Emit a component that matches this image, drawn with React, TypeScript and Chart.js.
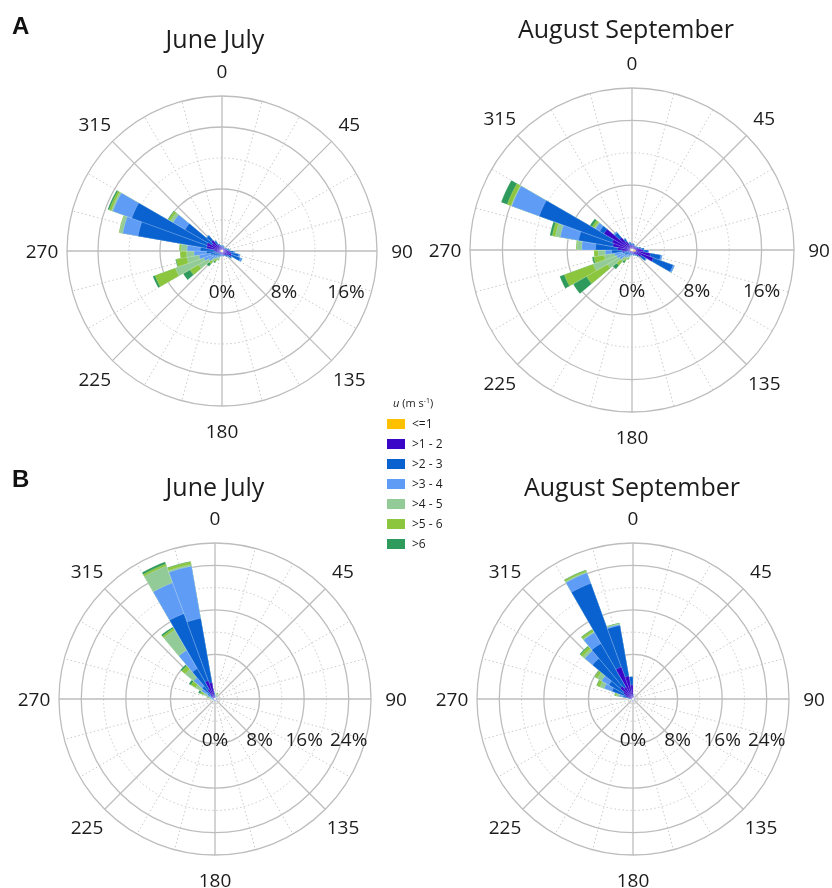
import React, { useEffect, useRef } from 'react';
import { Chart, registerables } from 'chart.js';

Chart.register(...registerables);

const FONT = "'Open Sans', 'Noto Sans', sans-serif";

// 36 direction sectors of 10 degrees (sector centres, degrees from north)
const DIRECTIONS = ['5', '15', '25', '35', '45', '55', '65', '75', '85', '95', '105', '115', '125', '135', '145', '155', '165', '175',
  '185', '195', '205', '215', '225', '235', '245', '255', '265', '275', '285', '295', '305', '315', '325', '335', '345', '355'];

const SPEED_CLASSES = ['<=1', '>1 - 2', '>2 - 3', '>3 - 4', '>4 - 5', '>5 - 6', '>6'];
const SPEED_COLORS = ['#FFC000', '#3A06C8', '#0A62D0', '#5E9CF6', '#93CB98', '#8CC63E', '#2E9A5C'];

const COMPASS_ANGLES = [0, 45, 90, 135, 180, 225, 270, 315];
const COMPASS_LABELS = ['0', '45', '90', '135', '180', '225', '270', '315'];
const RING_LABELS_A = [0, 8, 16];
const RING_LABELS_B = [0, 8, 16, 24];

// ---- Panel A, June July (percent frequency per speed class, per sector)
const A_JJ_LE1 = [0.1, 0.1, 0.1, 0.1, 0.1, 0.1, 0.1, 0.1, 0.1, 0.1, 0.1, 0.1, 0.1, 0.1, 0.1, 0.1, 0.1, 0.1, 0.1, 0.1, 0.1, 0.1, 0.1, 0.1, 0.1, 0.1, 0.1, 0.1, 0.2, 0.2, 0.2, 0.1, 0.1, 0.1, 0.1, 0.1];
const A_JJ_1_2 = [0.4, 0.4, 0.3, 0.3, 0.3, 0.3, 0.4, 0.5, 0.6, 0.8, 1.1, 1.2, 0.8, 0.6, 0.5, 0.4, 0.4, 0.3, 0.3, 0.3, 0.3, 0.3, 0.3, 0.3, 0.4, 0.5, 0.7, 0.9, 1.8, 1.9, 1.3, 1.7, 0.9, 0.6, 0.5, 0.4];
const A_JJ_2_3 = [0.2, 0.2, 0.2, 0.1, 0.1, 0.2, 0.2, 0.3, 0.3, 0.6, 1.0, 1.2, 0.5, 0.3, 0.2, 0.2, 0.2, 0.2, 0.2, 0.2, 0.3, 0.3, 0.4, 0.6, 0.7, 0.9, 1.2, 1.8, 9.0, 10.3, 4.0, 0.8, 0.5, 0.3, 0.2, 0.2];
const A_JJ_3_4 = [0, 0, 0, 0, 0, 0, 0, 0, 0.1, 0.2, 0.2, 0.3, 0.1, 0, 0, 0, 0, 0, 0.1, 0.1, 0.2, 0.3, 0.5, 1.0, 1.3, 1.5, 1.6, 1.7, 2.0, 2.6, 1.8, 0.1, 0.1, 0, 0, 0];
const A_JJ_4_5 = [0, 0, 0, 0, 0, 0, 0, 0, 0, 0, 0, 0, 0, 0, 0, 0, 0, 0, 0, 0.1, 0.2, 0.3, 0.5, 1.5, 3.9, 1.6, 1.0, 0.8, 0.4, 0.2, 0.4, 0, 0, 0, 0, 0];
const A_JJ_5_6 = [0, 0, 0, 0, 0, 0, 0, 0, 0, 0, 0, 0, 0, 0, 0, 0, 0, 0, 0, 0, 0.1, 0.3, 0.4, 1.3, 2.8, 1.4, 0.8, 0.2, 0.1, 0.3, 0.3, 0, 0, 0, 0, 0];
const A_JJ_GT6 = [0, 0, 0, 0, 0, 0, 0, 0, 0, 0, 0, 0, 0, 0, 0, 0, 0, 0, 0, 0, 0.1, 0.2, 0.4, 1.0, 0.3, 0.1, 0, 0, 0, 0.2, 0.1, 0, 0, 0, 0, 0];

// ---- Panel A, August September
const A_AS_LE1 = [0.1, 0.1, 0.1, 0.1, 0.1, 0.1, 0.1, 0.2, 0.3, 0.4, 0.5, 0.4, 0.3, 0.2, 0.1, 0.1, 0.1, 0.1, 0.1, 0.1, 0.1, 0.1, 0.1, 0.1, 0.1, 0.1, 0.2, 0.2, 0.2, 0.2, 0.2, 0.2, 0.2, 0.1, 0.1, 0.1];
const A_AS_1_2 = [0.5, 0.5, 0.4, 0.4, 0.4, 0.4, 0.5, 0.6, 0.8, 1.0, 1.8, 2.4, 1.0, 0.6, 0.5, 0.4, 0.4, 0.3, 0.3, 0.3, 0.3, 0.3, 0.2, 0.3, 0.3, 0.4, 1.0, 1.6, 2.2, 2.4, 3.8, 1.8, 1.0, 0.6, 0.6, 0.5];
const A_AS_2_3 = [0.2, 0.2, 0.2, 0.1, 0.1, 0.2, 0.2, 0.3, 0.4, 0.6, 1.3, 2.6, 0.7, 0.3, 0.2, 0.2, 0.2, 0.2, 0.2, 0.2, 0.3, 0.3, 0.4, 0.6, 0.6, 0.7, 1.3, 2.7, 4.3, 9.6, 0.6, 0.8, 0.4, 0.3, 0.3, 0.2];
const A_AS_3_4 = [0, 0, 0, 0, 0, 0, 0, 0, 0, 0.1, 0.2, 0.2, 0.1, 0, 0, 0, 0, 0, 0.1, 0.1, 0.2, 0.3, 0.5, 0.8, 1.0, 1.0, 0.8, 1.7, 2.3, 3.6, 0.6, 0.2, 0.1, 0, 0, 0];
const A_AS_4_5 = [0, 0, 0, 0, 0, 0, 0, 0, 0, 0, 0, 0, 0, 0, 0, 0, 0, 0, 0, 0.1, 0.2, 0.3, 0.6, 1.7, 3.1, 1.3, 0.9, 0.6, 0.6, 0.1, 0.2, 0, 0, 0, 0, 0];
const A_AS_5_6 = [0, 0, 0, 0, 0, 0, 0, 0, 0, 0, 0, 0, 0, 0, 0, 0, 0, 0, 0, 0, 0.1, 0.3, 0.7, 3.0, 3.8, 1.3, 0.5, 0.1, 0.4, 0.5, 0.3, 0, 0, 0, 0, 0];
const A_AS_GT6 = [0, 0, 0, 0, 0, 0, 0, 0, 0, 0, 0, 0, 0, 0, 0, 0, 0, 0, 0, 0, 0.1, 0.3, 0.6, 1.9, 0.6, 0.2, 0, 0, 0.3, 0.8, 0.3, 0, 0, 0, 0, 0];

// ---- Panel B, June July
const B_JJ_LE1 = [0.05, 0.05, 0.05, 0.05, 0.05, 0.05, 0.05, 0.05, 0.05, 0.05, 0.05, 0.05, 0.05, 0.05, 0.05, 0.05, 0.05, 0.05, 0.05, 0.05, 0.05, 0.05, 0.05, 0.05, 0.05, 0.05, 0.05, 0.05, 0.1, 0.1, 0.1, 0.1, 0.1, 0.1, 0.1, 0.1];
const B_JJ_1_2 = [0.3, 0.2, 0.2, 0.2, 0.15, 0.15, 0.15, 0.15, 0.15, 0.15, 0.15, 0.15, 0.15, 0.15, 0.15, 0.15, 0.15, 0.15, 0.15, 0.15, 0.15, 0.15, 0.15, 0.15, 0.15, 0.15, 0.2, 0.2, 0.1, 0.2, 0.4, 0.9, 1.9, 3.4, 2.9, 0.5];
const B_JJ_2_3 = [0.3, 0.2, 0.2, 0.1, 0.1, 0.1, 0.1, 0.1, 0.1, 0.1, 0.1, 0.1, 0.1, 0.1, 0.1, 0.1, 0.1, 0.1, 0.1, 0.1, 0.1, 0.1, 0.1, 0.1, 0.1, 0.15, 0.2, 0.2, 0.3, 0.5, 1.0, 2.0, 4.3, 12.8, 11.7, 0.5];
const B_JJ_3_4 = [0.1, 0.1, 0.2, 0.1, 0, 0, 0, 0, 0, 0, 0, 0, 0, 0, 0, 0, 0, 0, 0.1, 0.1, 0.1, 0.1, 0.1, 0.1, 0.1, 0.1, 0.1, 0.2, 0.3, 0.7, 1.3, 2.0, 3.8, 5.9, 9.5, 0.2];
const B_JJ_4_5 = [0.1, 0.2, 0.3, 0.1, 0, 0, 0, 0, 0, 0, 0, 0, 0, 0, 0, 0, 0, 0, 0, 0, 0, 0, 0, 0, 0, 0.1, 0.1, 0.2, 0.3, 0.7, 1.2, 2.0, 4.2, 3.2, 0.3, 0.1];
const B_JJ_5_6 = [0.1, 0.2, 0.2, 0.1, 0, 0, 0, 0, 0, 0, 0, 0, 0, 0, 0, 0, 0, 0, 0, 0, 0, 0, 0, 0, 0, 0, 0.05, 0.1, 0.3, 0.6, 1.0, 0.8, 0.4, 0.4, 0.5, 0];
const B_JJ_GT6 = [0, 0.1, 0.1, 0, 0, 0, 0, 0, 0, 0, 0, 0, 0, 0, 0, 0, 0, 0, 0, 0, 0, 0, 0, 0, 0, 0, 0, 0.05, 0.1, 0.4, 0.4, 0.3, 0.3, 0.4, 0.1, 0];

// ---- Panel B, August September
const B_AS_LE1 = [0.05, 0.05, 0.05, 0.05, 0.05, 0.05, 0.05, 0.05, 0.05, 0.05, 0.05, 0.05, 0.05, 0.05, 0.05, 0.05, 0.05, 0.05, 0.05, 0.05, 0.05, 0.05, 0.05, 0.05, 0.05, 0.05, 0.05, 0.05, 0.1, 0.1, 0.1, 0.1, 0.1, 0.1, 0.2, 0.1];
const B_AS_1_2 = [0.5, 0.2, 0.15, 0.15, 0.15, 0.15, 0.15, 0.15, 0.15, 0.15, 0.15, 0.15, 0.15, 0.15, 0.15, 0.15, 0.15, 0.15, 0.15, 0.15, 0.15, 0.15, 0.15, 0.15, 0.15, 0.15, 0.2, 0.3, 0.7, 1.4, 1.9, 2.9, 2.4, 6.0, 4.0, 2.4];
const B_AS_2_3 = [0.3, 0.1, 0.05, 0.05, 0.05, 0.05, 0.05, 0.05, 0.05, 0.05, 0.05, 0.05, 0.05, 0.05, 0.05, 0.05, 0.05, 0.05, 0.1, 0.1, 0.1, 0.1, 0.1, 0.1, 0.1, 0.1, 0.1, 0.3, 1.0, 2.5, 3.0, 6.5, 9.0, 16.0, 9.2, 1.5];
const B_AS_3_4 = [0, 0, 0, 0, 0, 0, 0, 0, 0, 0, 0, 0, 0, 0, 0, 0, 0, 0, 0, 0, 0, 0, 0, 0, 0, 0, 0.1, 0.2, 0.7, 1.5, 1.5, 1.8, 2.3, 2.0, 0.2, 0];
const B_AS_4_5 = [0, 0, 0, 0, 0, 0, 0, 0, 0, 0, 0, 0, 0, 0, 0, 0, 0, 0, 0, 0, 0, 0, 0, 0, 0, 0, 0, 0.1, 0.5, 0.8, 0.9, 0.5, 0.2, 0.2, 0.1, 0];
const B_AS_5_6 = [0, 0, 0, 0, 0, 0, 0, 0, 0, 0, 0, 0, 0, 0, 0, 0, 0, 0, 0, 0, 0, 0, 0, 0, 0, 0, 0, 0.1, 0.3, 0.6, 0.5, 0.5, 0.4, 0.3, 0.1, 0];
const B_AS_GT6 = [0, 0, 0, 0, 0, 0, 0, 0, 0, 0, 0, 0, 0, 0, 0, 0, 0, 0, 0, 0, 0, 0, 0, 0, 0, 0, 0, 0, 0.1, 0.1, 0.1, 0.2, 0.1, 0.1, 0.1, 0];

// grid: radial lines every 15 degrees (solid every 45)
const GRID_ANGLES = [0, 15, 30, 45, 60, 75, 90, 105, 120, 135, 150, 165, 180, 195, 210, 225, 240, 255, 270, 285, 300, 315, 330, 345];
const GRID_SOLID = '#BDBDBD';
const GRID_DOT = '#C9C9C9';
const TEXT = '#1c1c1c';

type Spec = {
  id: string;
  title: string;
  classes: number[][];
  max: number;
  rings: number[];
  cx: number;
  cy: number;
  R: number;
  titleDx: number;
  titleDy: number;
};

const SPECS: Spec[] = [
  { id: 'a1', title: 'June July', classes: [A_JJ_LE1, A_JJ_1_2, A_JJ_2_3, A_JJ_3_4, A_JJ_4_5, A_JJ_5_6, A_JJ_GT6], max: 20, rings: RING_LABELS_A, cx: 222, cy: 251, R: 155, titleDx: -7, titleDy: -203 },
  { id: 'a2', title: 'August September', classes: [A_AS_LE1, A_AS_1_2, A_AS_2_3, A_AS_3_4, A_AS_4_5, A_AS_5_6, A_AS_GT6], max: 20, rings: RING_LABELS_A, cx: 632, cy: 250, R: 162, titleDx: -6, titleDy: -212 },
  { id: 'b1', title: 'June July', classes: [B_JJ_LE1, B_JJ_1_2, B_JJ_2_3, B_JJ_3_4, B_JJ_4_5, B_JJ_5_6, B_JJ_GT6], max: 28, rings: RING_LABELS_B, cx: 215, cy: 699, R: 156, titleDx: 0, titleDy: -203 },
  { id: 'b2', title: 'August September', classes: [B_AS_LE1, B_AS_1_2, B_AS_2_3, B_AS_3_4, B_AS_4_5, B_AS_5_6, B_AS_GT6], max: 28, rings: RING_LABELS_B, cx: 633, cy: 699, R: 156, titleDx: -1, titleDy: -203 },
];

const PAD = { left: 70, right: 70, top: 90, bottom: 70 };

function decorPlugin(spec: Spec) {
  return {
    id: 'roseDecor',
    beforeDatasetsDraw(chart: any) {
      const s = chart.scales.r;
      const ctx = chart.ctx;
      const R = s.drawingArea;
      ctx.save();
      GRID_ANGLES.forEach((a) => {
        const major = a % 45 === 0;
        const t = (a * Math.PI) / 180;
        ctx.beginPath();
        ctx.setLineDash(major ? [] : [1.5, 2.5]);
        ctx.strokeStyle = major ? GRID_SOLID : GRID_DOT;
        ctx.lineWidth = major ? 1.3 : 1;
        ctx.moveTo(s.xCenter, s.yCenter);
        ctx.lineTo(s.xCenter + R * Math.sin(t), s.yCenter - R * Math.cos(t));
        ctx.stroke();
      });
      ctx.restore();
    },
    afterDraw(chart: any) {
      const s = chart.scales.r;
      const ctx = chart.ctx;
      const R = s.drawingArea;
      ctx.save();
      ctx.fillStyle = TEXT;
      ctx.font = `19px ${FONT}`;
      ctx.textAlign = 'center';
      ctx.textBaseline = 'middle';
      COMPASS_ANGLES.forEach((a, i) => {
        const t = (a * Math.PI) / 180;
        const rr = R + 25;
        ctx.fillText(COMPASS_LABELS[i], s.xCenter + rr * Math.sin(t), s.yCenter - rr * Math.cos(t) + 2);
      });
      ctx.textBaseline = 'alphabetic';
      spec.rings.forEach((v) => {
        const d = s.getDistanceFromCenterForValue(v);
        ctx.fillText(`${v}%`, s.xCenter + d, s.yCenter + 47);
      });
      ctx.font = `25px ${FONT}`;
      ctx.fillText(spec.title, s.xCenter + spec.titleDx, s.yCenter + spec.titleDy);
      ctx.restore();
    },
  };
}

function Rose({ spec }: { spec: Spec }) {
  const ref = useRef<HTMLCanvasElement>(null);
  useEffect(() => {
    if (!ref.current) return;
    const cumulative = SPEED_CLASSES.map((_, k) =>
      DIRECTIONS.map((_, i) => {
        let sum = 0;
        for (let j = 0; j <= k; j++) sum += spec.classes[j][i];
        return Math.round(sum * 1000) / 1000;
      })
    );
    const chart = new Chart(ref.current, {
      type: 'polarArea',
      data: {
        labels: DIRECTIONS,
        datasets: SPEED_CLASSES.map((name, k) => ({
          label: name,
          data: cumulative[k],
          backgroundColor: SPEED_COLORS[k],
          borderColor: 'rgba(255,255,255,0.45)',
          borderWidth: 0.4,
        })),
      },
      options: {
        responsive: false,
        animation: false,
        events: [],
        layout: { padding: PAD },
        plugins: { legend: { display: false }, tooltip: { enabled: false } },
        scales: {
          r: {
            min: 0,
            max: spec.max,
            startAngle: 0,
            ticks: { display: false, stepSize: 4 },
            angleLines: { display: false },
            pointLabels: { display: false },
            grid: {
              circular: true,
              color: (c: any) => (c.tick && (c.tick.value % 8 === 0 || c.tick.value === spec.max) ? GRID_SOLID : GRID_DOT),
              lineWidth: (c: any) => (c.tick && (c.tick.value % 8 === 0 || c.tick.value === spec.max) ? 1.3 : 1),
            },
            border: {
              dash: (c: any) => (c.tick && (c.tick.value % 8 === 0 || c.tick.value === spec.max) ? [] : [1.5, 2.5]),
            },
          },
        },
      } as any,
      plugins: [decorPlugin(spec)],
    });
    return () => chart.destroy();
  }, [spec]);
  const w = spec.R * 2 + PAD.left + PAD.right;
  const h = spec.R * 2 + PAD.top + PAD.bottom;
  return (
    <canvas
      ref={ref}
      width={w}
      height={h}
      style={{ position: 'absolute', left: spec.cx - spec.R - PAD.left, top: spec.cy - spec.R - PAD.top, width: w, height: h }}
    />
  );
}

function Legend() {
  return (
    <div style={{ position: 'absolute', left: 380, top: 396, width: 80, fontFamily: FONT, color: TEXT }}>
      <div style={{ position: 'absolute', left: 13, top: 0, fontSize: 11, whiteSpace: 'nowrap', lineHeight: '14px' }}>
        <i>u</i> (m s<span style={{ fontSize: 7, verticalAlign: 'top', lineHeight: '10px' }}>-1</span>)
      </div>
      {SPEED_CLASSES.map((name, k) => (
        <div key={name} style={{ position: 'absolute', left: 0, top: 23 + k * 20, height: 12, whiteSpace: 'nowrap' }}>
          <div style={{ position: 'absolute', left: 7, top: 0, width: 18, height: 10, background: SPEED_COLORS[k] }} />
          <div style={{ position: 'absolute', left: 32, top: -3, fontSize: 12, lineHeight: '16px' }}>{name}</div>
        </div>
      ))}
    </div>
  );
}

export default function App() {
  return (
    <div style={{ position: 'absolute', left: 0, top: 0, width: 832, height: 888, overflow: 'hidden', background: '#ffffff' }}>
      {SPECS.map((s) => (
        <Rose key={s.id} spec={s} />
      ))}
      <div style={{ position: 'absolute', left: 12, top: 12, fontFamily: "'Liberation Sans', Arial, sans-serif", fontWeight: 'bold', fontSize: 24, color: '#111' }}>A</div>
      <div style={{ position: 'absolute', left: 12, top: 465, fontFamily: "'Liberation Sans', Arial, sans-serif", fontWeight: 'bold', fontSize: 24, color: '#111' }}>B</div>
      <Legend />
    </div>
  );
}
